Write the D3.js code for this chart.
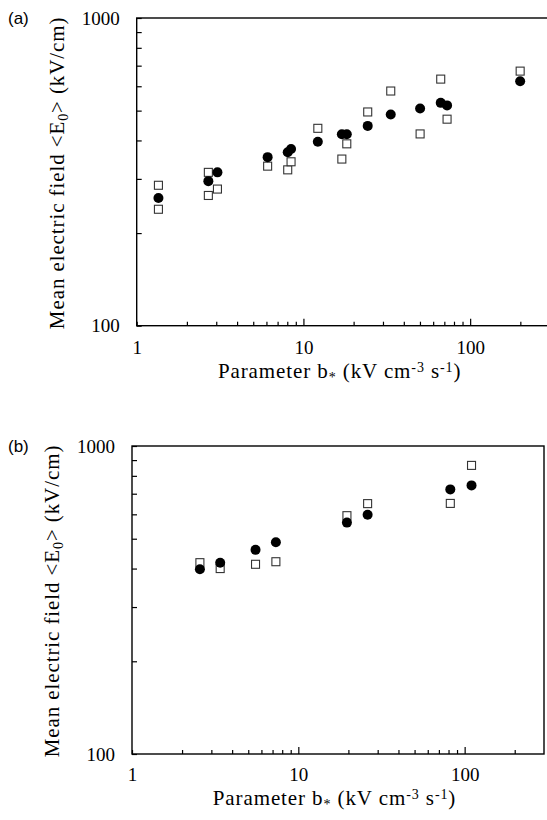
<!DOCTYPE html>
<html>
<head>
<meta charset="utf-8">
<script src="https://cdn.jsdelivr.net/npm/d3@7"></script>
<style>
body { margin: 0; background: #fff; }
</style>
</head>
<body>
<div id="chart"></div>
<script>
var width = 547;
var height = 820;

// panel (a): b* (kV cm-3 s-1) vs mean field (kV/cm)
const aCircleB = [1.35, 2.69, 3.05, 6.1, 8.05, 8.43, 12.2, 17.0, 18.2, 24.3, 33.4, 50.1, 66.6, 72.7, 199.5];
const aCircleE = [260, 295, 315, 353, 366, 375, 396, 419, 419, 446, 486, 508, 530, 520, 623];
const aSquareB = [1.35, 1.35, 2.69, 2.69, 3.05, 6.1, 8.05, 8.43, 12.2, 17.0, 18.2, 24.3, 33.4, 50.1, 66.6, 72.7, 199.5];
const aSquareE = [286, 239, 315, 265, 278, 330, 321, 341, 438, 348, 390, 495, 579, 420, 633, 469, 672];

// panel (b)
const bCircleB = [2.56, 3.39, 5.53, 7.33, 19.6, 26.1, 82.0, 110];
const bCircleE = [398, 418, 460, 487, 564, 598, 723, 745];
const bSquareB = [2.56, 3.39, 5.53, 7.33, 19.6, 26.1, 82.0, 110];
const bSquareE = [418, 400, 413, 421, 594, 650, 651, 865];

const xTicks = [1, 2, 3, 4, 5, 6, 7, 8, 9, 10, 20, 30, 40, 50, 60, 70, 80, 90, 100, 200];
const yTicks = [100, 200, 300, 400, 500, 600, 700, 800, 900, 1000];
const xLabels = [1, 10, 100];
const yLabels = [100, 1000];

const panels = [
  { tag: "(a)", left: 136.7, top: 18, w: 413, h: 307.7, xPad: 15, titleY: 52,
    circles: d3.zip(aCircleB, aCircleE), squares: d3.zip(aSquareB, aSquareE) },
  { tag: "(b)", left: 132, top: 446, w: 412, h: 308, xPad: 14, titleY: 51,
    circles: d3.zip(bCircleB, bCircleE), squares: d3.zip(bSquareB, bSquareE) }
];

const serif = "'Liberation Serif', 'Times New Roman', serif";

let svg = d3.select("#chart")
  .append("svg")
  .attr("width", width)
  .attr("height", height);

panels.forEach(p => {
  const x = d3.scaleLog().domain([1, 300]).range([0, p.w]);
  const y = d3.scaleLog().domain([100, 1000]).range([p.h, 0]);

  const g = svg.append("g").attr("transform", `translate(${p.left},${p.top})`);

  // bottom axis, ticks inward
  const xAxis = g.append("g")
    .attr("transform", `translate(0,${p.h})`)
    .call(d3.axisBottom(x)
      .tickValues(xTicks)
      .tickSizeInner(-4)
      .tickSizeOuter(0)
      .tickPadding(p.xPad)
      .tickFormat(d => xLabels.includes(d) ? d : ""));
  xAxis.select(".domain").remove();
  xAxis.selectAll(".tick line")
    .attr("y2", d => (d === 10 || d === 100) ? -7 : -4)
    .attr("stroke", "#000").attr("stroke-width", 1.2);
  xAxis.selectAll("text")
    .style("font-family", serif).style("font-size", "19px").attr("fill", "#000");

  // left axis
  const yAxis = g.append("g")
    .call(d3.axisLeft(y)
      .tickValues(yTicks)
      .tickSizeInner(-5)
      .tickSizeOuter(0)
      .tickPadding(17)
      .tickFormat(d => yLabels.includes(d) ? d : ""));
  yAxis.select(".domain").remove();
  yAxis.selectAll(".tick line").attr("stroke", "#000").attr("stroke-width", 1.2);
  yAxis.selectAll("text")
    .style("font-family", serif).style("font-size", "19px").attr("fill", "#000");

  // frame
  g.append("rect")
    .attr("width", p.w).attr("height", p.h)
    .attr("fill", "none").attr("stroke", "#000").attr("stroke-width", 1.4);

  // open squares first, filled circles on top
  g.selectAll(".sq").data(p.squares).enter().append("rect")
    .attr("class", "sq")
    .attr("x", d => x(d[0]) - 4)
    .attr("y", d => y(d[1]) - 4)
    .attr("width", 8).attr("height", 8)
    .attr("fill", "#fff").attr("stroke", "#333").attr("stroke-width", 1.1);

  g.selectAll(".dot").data(p.circles).enter().append("circle")
    .attr("class", "dot")
    .attr("cx", d => x(d[0]))
    .attr("cy", d => y(d[1]))
    .attr("r", 5)
    .attr("fill", "#000");

  // x title
  const xt = g.append("text")
    .attr("x", x(16.5))
    .attr("y", p.h + p.titleY)
    .attr("text-anchor", "middle")
    .style("font-family", serif).style("font-size", "21px")
    .style("letter-spacing", "0.9px").attr("fill", "#000");
  xt.append("tspan").text("Parameter  b");
  xt.append("tspan").attr("dy", 4).style("font-size", "14px").text("*");
  xt.append("tspan").attr("dy", -4).text(" (kV cm");
  xt.append("tspan").attr("dy", -6).style("font-size", "14px").text("-3");
  xt.append("tspan").attr("dy", 6).text(" s");
  xt.append("tspan").attr("dy", -6).style("font-size", "14px").text("-1");
  xt.append("tspan").attr("dy", 6).text(")");

  // y title
  const yt = g.append("text")
    .attr("transform", `translate(-73,${p.h / 2 + 1}) rotate(-90)`)
    .attr("text-anchor", "middle")
    .style("font-family", serif).style("font-size", "21px")
    .style("letter-spacing", "0.9px").attr("fill", "#000");
  yt.append("tspan").text("Mean electric field <E");
  yt.append("tspan").attr("dy", 4).style("font-size", "14px").text("0");
  yt.append("tspan").attr("dy", -4).text("> (kV/cm)");

  // panel tag
  svg.append("text")
    .attr("x", 8).attr("y", p.top + 6)
    .style("font-family", "'Liberation Sans', Arial, sans-serif")
    .style("font-size", "17px").attr("fill", "#000")
    .text(p.tag);
});
</script>
</body>
</html>
